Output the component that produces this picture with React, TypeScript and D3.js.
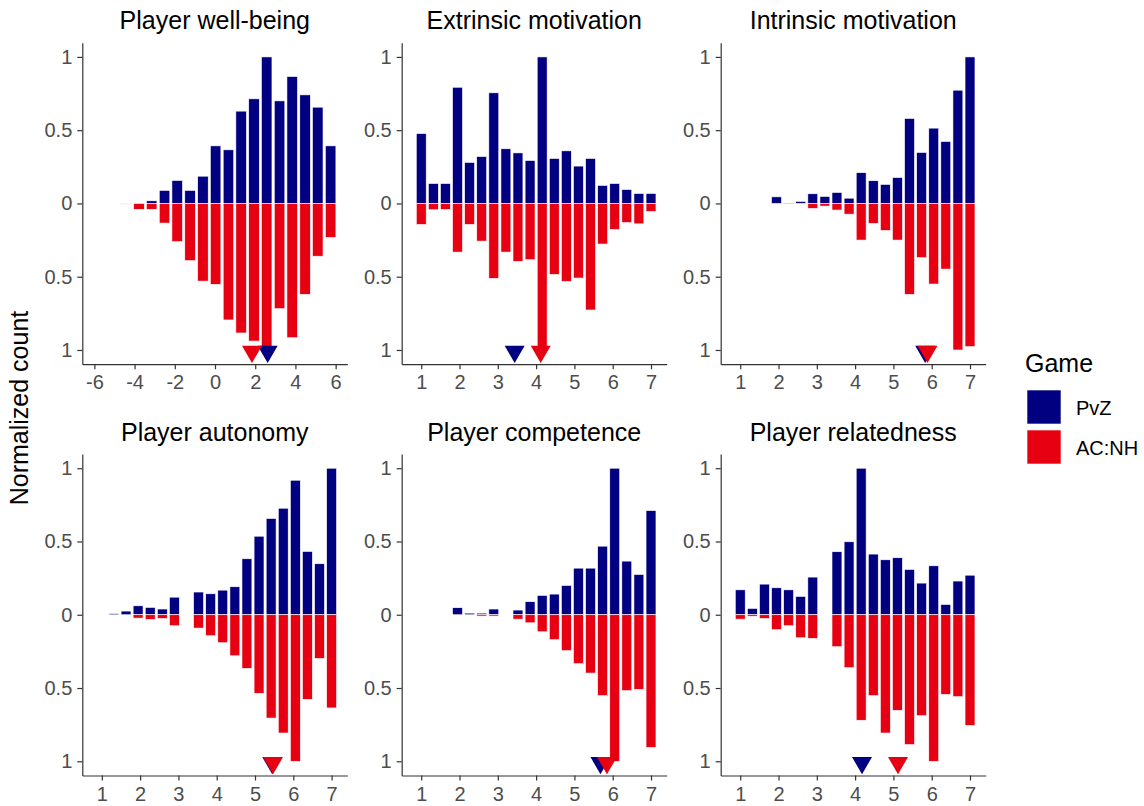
import React, { useEffect, useRef } from "react";
import * as d3 from "d3";

const width = 1144;
const height = 806;
const font = '"Liberation Sans", Arial, Helvetica, sans-serif';
const pvzColor = "#000080";
const acnhColor = "#E60012";

const plotW = 265;
const plotH = 321.5;
const colLefts = [82.3, 401.7, 720.7];
const rowTops = [42.7, 454];

// panel titles and games
const titles = [
  "Player well-being",
  "Extrinsic motivation",
  "Intrinsic motivation",
  "Player autonomy",
  "Player competence",
  "Player relatedness",
];
const games = ["PvZ", "AC:NH"];

// bin centres
const wellbeingBins = [-4.42, -3.78, -3.15, -2.51, -1.88, -1.24, -0.6, 0.03, 0.67, 1.3, 1.94, 2.57, 3.21, 3.84, 4.48, 5.11, 5.75];
const likertBins = [1, 1.316, 1.632, 1.947, 2.263, 2.579, 2.895, 3.211, 3.526, 3.842, 4.158, 4.474, 4.789, 5.105, 5.421, 5.737, 6.053, 6.368, 6.684, 7];

const wellbeingTicks = [-6, -4, -2, 0, 2, 4, 6];
const likertTicks = [1, 2, 3, 4, 5, 6, 7];
const yTicks = [-1, -0.5, 0, 0.5, 1];

// normalized counts
const wellbeingPvZ = [0, 0, 0.018, 0.089, 0.157, 0.089, 0.186, 0.393, 0.366, 0.63, 0.714, 1, 0.7, 0.866, 0.741, 0.657, 0.393];
const wellbeingACNH = [0.004, 0.04, 0.04, 0.134, 0.26, 0.39, 0.53, 0.552, 0.795, 0.884, 0.939, 1, 0.718, 0.916, 0.62, 0.36, 0.232];

const extrinsicPvZ = [0.477, 0.136, 0.136, 0.793, 0.28, 0.32, 0.755, 0.373, 0.345, 0.293, 1, 0.307, 0.359, 0.255, 0.307, 0.123, 0.136, 0.095, 0.068, 0.068];
const extrinsicACNH = [0.143, 0.043, 0.041, 0.332, 0.143, 0.257, 0.511, 0.332, 0.395, 0.384, 1, 0.484, 0.532, 0.509, 0.727, 0.277, 0.177, 0.13, 0.139, 0.055];

const intrinsicPvZ = [0, 0, 0, 0.045, 0.003, 0.014, 0.066, 0.048, 0.075, 0.036, 0.21, 0.155, 0.13, 0.177, 0.58, 0.348, 0.514, 0.423, 0.773, 1];
const intrinsicACNH = [0, 0, 0, 0, 0, 0, 0.034, 0.018, 0.045, 0.073, 0.25, 0.136, 0.184, 0.25, 0.62, 0.37, 0.55, 0.448, 1, 0.977];

const autonomyPvZ = [0, 0.008, 0.025, 0.061, 0.05, 0.039, 0.12, 0, 0.155, 0.143, 0.168, 0.191, 0.382, 0.536, 0.657, 0.727, 0.918, 0.432, 0.348, 1];
const autonomyACNH = [0, 0, 0, 0.023, 0.032, 0.025, 0.075, 0, 0.091, 0.143, 0.191, 0.28, 0.366, 0.536, 0.705, 0.807, 1, 0.577, 0.298, 0.636];

const competencePvZ = [0, 0, 0, 0.048, 0.011, 0.011, 0.039, 0, 0.032, 0.089, 0.132, 0.141, 0.2, 0.318, 0.318, 0.468, 1, 0.366, 0.275, 0.711];
const competenceACNH = [0, 0, 0, 0, 0, 0.009, 0.009, 0, 0.03, 0.055, 0.116, 0.17, 0.245, 0.334, 0.398, 0.552, 1, 0.518, 0.509, 0.905];

const relatednessPvZ = [0.17, 0.043, 0.209, 0.184, 0.17, 0.125, 0.257, 0, 0.43, 0.498, 1, 0.414, 0.375, 0.389, 0.309, 0.216, 0.334, 0.07, 0.23, 0.27];
const relatednessACNH = [0.03, 0.01, 0.025, 0.102, 0.075, 0.157, 0.161, 0, 0.218, 0.361, 0.72, 0.552, 0.807, 0.652, 0.886, 0.689, 1, 0.543, 0.559, 0.755];

// group means (triangles)
const pvzMeans = [2.62, 3.44, 5.83, 5.45, 5.68, 4.18];
const acnhMeans = [1.84, 4.12, 5.89, 5.47, 5.85, 5.12];

const panels = [
  { bins: wellbeingBins, pvz: wellbeingPvZ, acnh: wellbeingACNH, domain: [-6.6, 6.58], ticks: wellbeingTicks },
  { bins: likertBins, pvz: extrinsicPvZ, acnh: extrinsicACNH, domain: [0.49, 7.41], ticks: likertTicks },
  { bins: likertBins, pvz: intrinsicPvZ, acnh: intrinsicACNH, domain: [0.49, 7.41], ticks: likertTicks },
  { bins: likertBins, pvz: autonomyPvZ, acnh: autonomyACNH, domain: [0.49, 7.41], ticks: likertTicks },
  { bins: likertBins, pvz: competencePvZ, acnh: competenceACNH, domain: [0.49, 7.41], ticks: likertTicks },
  { bins: likertBins, pvz: relatednessPvZ, acnh: relatednessACNH, domain: [0.49, 7.41], ticks: likertTicks },
].map((p, i) => ({ ...p, title: titles[i], pvzMean: pvzMeans[i], acnhMean: acnhMeans[i] }));

const triangle = d3.symbol(d3.symbolTriangle, 173)();

function styleAxis(g) {
  g.select(".domain").attr("stroke", "#333333").attr("stroke-width", 1.2);
  g.selectAll(".tick line").attr("stroke", "#333333").attr("stroke-width", 1.2);
  g.selectAll(".tick text")
    .attr("fill", "#4D4D4D")
    .attr("font-size", 20)
    .attr("font-family", font);
}

function Panel({ panel, left, top }) {
  const xRef = useRef(null);
  const yRef = useRef(null);

  const x = d3.scaleLinear().domain(panel.domain).range([0, plotW]);
  const y = d3.scaleLinear().domain([-1.097, 1.097]).range([plotH, 0]);
  const binW = x(panel.bins[1]) - x(panel.bins[0]);
  const barW = binW * 0.82;

  useEffect(() => {
    const xAxis = d3.axisBottom(x)
      .tickValues(panel.ticks)
      .tickSize(5)
      .tickSizeOuter(0)
      .tickPadding(6)
      .tickFormat(d => String(d));
    const yAxis = d3.axisLeft(y)
      .tickValues(yTicks)
      .tickSize(5)
      .tickSizeOuter(0)
      .tickPadding(5)
      .tickFormat(d => String(Math.abs(d)));
    d3.select(xRef.current).call(xAxis).call(styleAxis);
    d3.select(yRef.current).call(yAxis).call(styleAxis);
  });

  return (
    <g transform={`translate(${left},${top})`}>
      <text x={plotW / 2} y={-13.4} textAnchor="middle" fontSize={25} fontFamily={font} fill="#000">
        {panel.title}
      </text>
      {panel.pvz.map((v, i) =>
        v > 0 ? (
          <rect key={"p" + i} x={x(panel.bins[i]) - barW / 2} y={y(v)} width={barW} height={y(0) - y(v)}
            fill={pvzColor} stroke="#fff" strokeWidth={0.6} />
        ) : null
      )}
      {panel.acnh.map((v, i) =>
        v > 0 ? (
          <rect key={"a" + i} x={x(panel.bins[i]) - barW / 2} y={y(0)} width={barW} height={y(-v) - y(0)}
            fill={acnhColor} stroke="#fff" strokeWidth={0.6} />
        ) : null
      )}
      <path d={triangle} transform={`translate(${x(panel.pvzMean)},${y(-1) + 1.5}) rotate(180)`} fill={pvzColor} />
      <path d={triangle} transform={`translate(${x(panel.acnhMean)},${y(-1) + 1.5}) rotate(180)`} fill={acnhColor} />
      <g ref={xRef} transform={`translate(0,${plotH})`} />
      <g ref={yRef} />
    </g>
  );
}

export default function App() {
  return (
    <svg width={width} height={height} style={{ position: "absolute", left: 0, top: 0, background: "#fff" }}>
      <rect width={width} height={height} fill="#fff" />
      {panels.map((p, i) => (
        <Panel key={p.title} panel={p} left={colLefts[i % 3]} top={rowTops[Math.floor(i / 3)]} />
      ))}
      <text transform="translate(28,408) rotate(-90)" textAnchor="middle" fontSize={25} fontFamily={font} fill="#000">
        Normalized count
      </text>
      {/* legend */}
      <text x={1025} y={372} fontSize={25} fontFamily={font} fill="#000">Game</text>
      {games.map((g, i) => (
        <g key={g} transform={`translate(1027,${390 + i * 40})`}>
          <rect width={34} height={34} fill={i === 0 ? pvzColor : acnhColor} stroke="#fff" strokeWidth={0.6} />
          <text x={49} y={25} fontSize={20} fontFamily={font} fill="#000">{g}</text>
        </g>
      ))}
    </svg>
  );
}
